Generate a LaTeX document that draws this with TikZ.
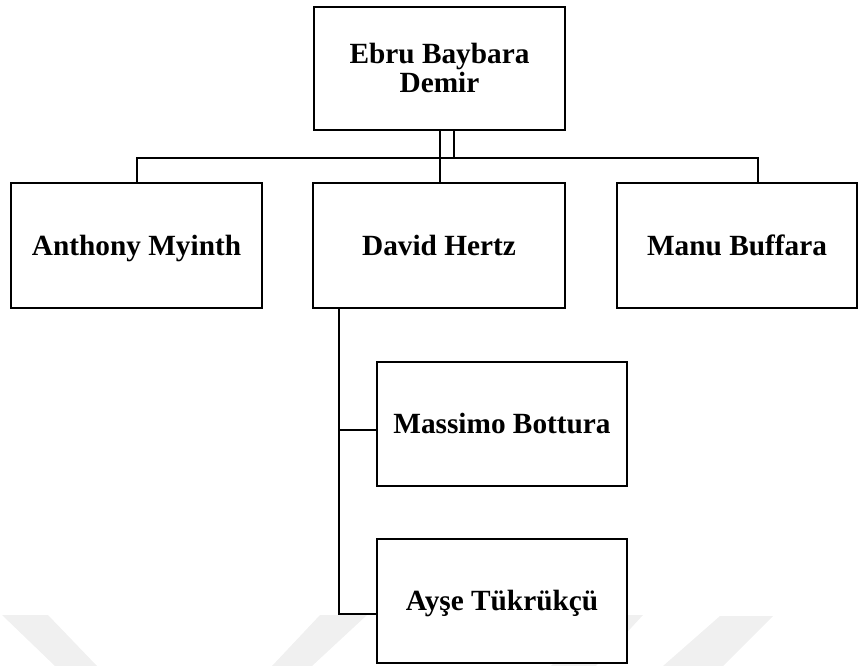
\documentclass[tikz,border=0pt]{standalone}
\usepackage{fontspec}
\setmainfont{Liberation Serif}
\begin{document}
\begin{tikzpicture}[x=1pt,y=-1pt,
  person/.style={draw=black,line width=2pt,fill=white,rectangle,inner sep=0pt,outer sep=0pt,
    align=center,font=\fontsize{29.3}{29}\selectfont\bfseries,
    text height=19.4pt,text depth=0pt},
  link/.style={draw=black,line width=2pt}]
  \useasboundingbox (0,0) rectangle (859,666);

  % faint background bands along the lower edge
  \fill[black!6] (2,615) -- (48,615) -- (97,666) -- (55,666) -- cycle;
  \fill[black!6] (320,615) -- (367,615) -- (312,666) -- (272,666) -- cycle;
  \fill[black!6] (598,615) -- (643,615) -- (596,666) -- (551,666) -- cycle;
  \fill[black!6] (720,616) -- (773,616) -- (723,666) -- (663,666) -- cycle;

  % people
  \node[person,minimum width=251pt,minimum height=123pt,text height=48.4pt] (top) at (439.5,68.5) {Ebru Baybara\\Demir};
  \node[person,minimum width=251pt,minimum height=125pt] (anthony) at (136.5,245.5) {Anthony Myinth};
  \node[person,minimum width=252pt,minimum height=125pt] (david) at (439,245.5) {David Hertz};
  \node[person,minimum width=240pt,minimum height=125pt] (manu) at (737,245.5) {Manu Buffara};
  \node[person,minimum width=250pt,minimum height=124pt] (massimo) at (502,424) {Massimo Bottura};
  \node[person,minimum width=250pt,minimum height=124pt] (ayse) at (502,601) {Ayşe Tükrükçü};

  % junction points of the connectors
  \coordinate (busR) at (758,158);
  \coordinate (join) at (454,158);
  \coordinate (stem) at (339,614);
  \coordinate (tapM) at (339,430);

  % top level
  \draw[link] (top.south) -- (top.south |- david.north);
  \draw[link] (top.south -| join) -- (join);
  \draw[link] (anthony.north) |- (busR) -- (busR |- manu.north);

  % under David Hertz
  \draw[link] (david.south -| stem) -- (stem) -- (stem -| ayse.west);
  \draw[link] (tapM) -- (tapM -| massimo.west);
\end{tikzpicture}
\end{document}
